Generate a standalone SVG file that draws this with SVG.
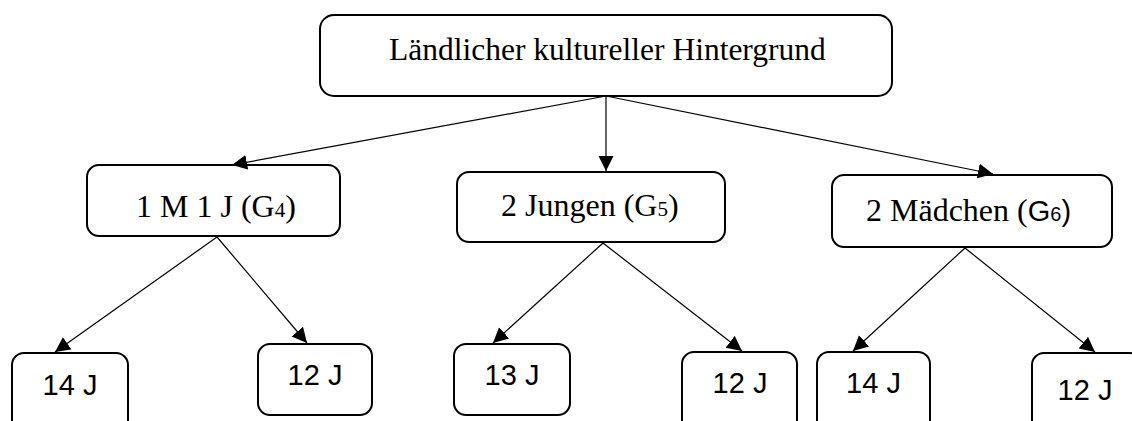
<svg xmlns="http://www.w3.org/2000/svg" width="1132" height="421" viewBox="0 0 1132 421">
<style>
.box{fill:#fff;stroke:#000;stroke-width:2}
.ser{font-family:"Liberation Serif","Times New Roman",serif;font-size:32px;fill:#000}
.ttl{font-size:31.5px}
.san{font-family:"Liberation Sans",Arial,sans-serif;font-size:29px;fill:#000}
.sub{font-size:21px}
.sa{font-family:"Liberation Sans",Arial,sans-serif}
.con line{stroke:#000;stroke-width:1.2;marker-end:url(#ah)}
</style>
<defs>
<marker id="ah" markerUnits="userSpaceOnUse" markerWidth="17" markerHeight="17" refX="15" refY="7.5" orient="auto">
<path d="M0,0 L15,7.5 L0,15 z" fill="#000"/>
</marker>
</defs>
<rect width="1132" height="421" fill="#fff"/>
<g id="root"><rect class="box" x="320" y="15" width="572" height="81" rx="14"/>
<text class="ser ttl" x="389" y="60">Ländlicher kultureller Hintergrund</text></g>
<g id="g4"><rect class="box" x="87" y="165" width="253" height="71" rx="12"/>
<text class="ser" x="136" y="217">1 M 1 J (G<tspan class="sub">4</tspan>)</text></g>
<g id="g5"><rect class="box" x="457" y="172" width="268" height="70" rx="12"/>
<text class="ser" x="501" y="216">2 Jungen (G<tspan class="sub">5</tspan>)</text></g>
<g id="g6"><rect class="box" x="832" y="175" width="280" height="72" rx="12"/>
<text class="ser" x="866" y="221">2 Mädchen (<tspan class="sa" font-size="29">G</tspan><tspan class="sa" font-size="20">6</tspan><tspan class="sa" font-size="29">)</tspan></text></g>
<g id="b1"><rect class="box" x="12" y="353" width="116" height="80" rx="12"/>
<text class="san" x="70" y="395" text-anchor="middle">14 J</text></g>
<g id="b2"><rect class="box" x="258" y="344" width="114" height="71" rx="12"/>
<text class="san" x="315" y="385" text-anchor="middle">12 J</text></g>
<g id="b3"><rect class="box" x="454" y="344" width="116" height="71" rx="12"/>
<text class="san" x="512" y="385" text-anchor="middle">13 J</text></g>
<g id="b4"><rect class="box" x="682" y="352" width="115" height="80" rx="12"/>
<text class="san" x="740" y="393" text-anchor="middle">12 J</text></g>
<g id="b5"><rect class="box" x="817" y="352" width="113" height="80" rx="12"/>
<text class="san" x="873.5" y="393" text-anchor="middle">14 J</text></g>
<g id="b6"><rect class="box" x="1032" y="353" width="110" height="80" rx="12"/>
<text class="san" x="1085" y="400" text-anchor="middle">12 J</text></g>
<g id="connectors" class="con">
<line x1="606" y1="96" x2="232" y2="165"/>
<line x1="606" y1="96" x2="606" y2="171"/>
<line x1="606" y1="96" x2="993" y2="174"/>
<line x1="217" y1="237" x2="55" y2="352"/>
<line x1="217" y1="237" x2="307" y2="343"/>
<line x1="603" y1="243" x2="493" y2="343"/>
<line x1="603" y1="243" x2="742" y2="351"/>
<line x1="965" y1="248" x2="853" y2="351"/>
<line x1="965" y1="248" x2="1095" y2="352"/>
</g>
</svg>
